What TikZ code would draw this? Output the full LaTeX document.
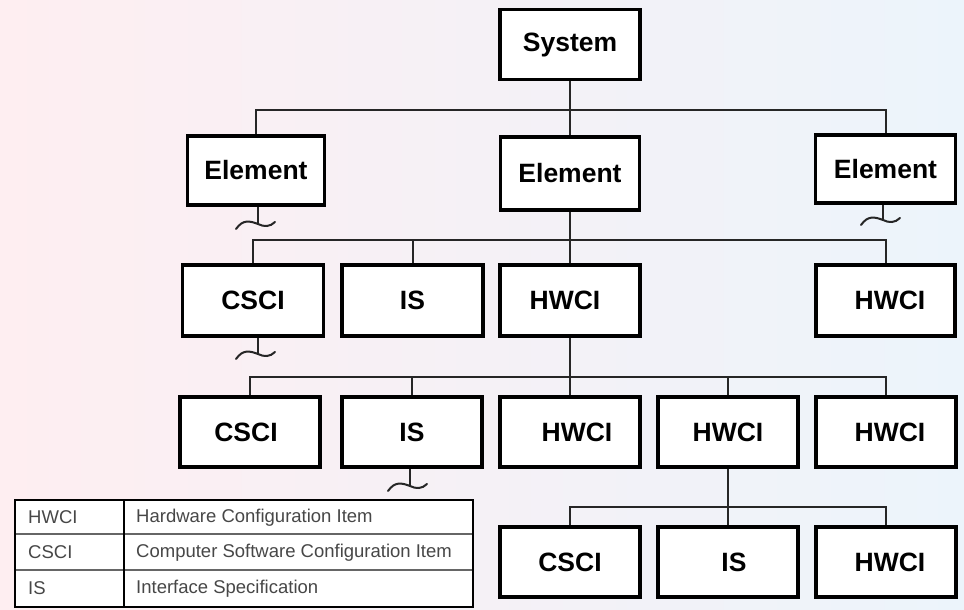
\documentclass[tikz,border=0pt]{standalone}
\usepackage{fontspec}
\setmainfont{Liberation Sans}
\begin{document}
\begin{tikzpicture}[x=1pt,y=-1pt,
  box/.style={draw=black,fill=white,line width=3.5pt,minimum width=140pt,minimum height=70pt,inner sep=0pt,
    font=\fontsize{26.5}{30}\selectfont\bfseries},
  conn/.style={draw=black!85,line width=2pt},
  squig/.style={draw=black!85,line width=2pt,line cap=round},
  tbltxt/.style={anchor=west,inner sep=0pt,text=black!72,font=\fontsize{18.5}{21}\selectfont}
]
\useasboundingbox (0,0) rectangle (964,610);
\shade[left color={rgb,255:red,254;green,238;blue,241},middle color={rgb,255:red,252;green,251;blue,252},right color={rgb,255:red,236;green,244;blue,251}]
  (0,0) rectangle (964,610);

% level 0/1
\node[box] (sys) at (570,44.5) {System};
\node[box,minimum width=137pt,minimum height=69pt] (e1) at (256,170.5) {Element};
\node[box,minimum width=139pt,minimum height=73pt] (e2) at (570,173.5) {Element};
\node[box,minimum height=68pt] (e3) at (885.5,169) {Element};

% level 2
\node[box,minimum width=141pt,minimum height=71pt] (c2) at (253,300.5) {CSCI};
\node[box,minimum width=141pt,minimum height=71pt] (i2) at (412.5,300.5) {IS};
\node[box,minimum height=71pt] (h2) at (570,300.5) {HWCI\hspace*{10pt}};
\node[box,minimum width=139pt,minimum height=71pt] (h2r) at (885.5,300.5) {\hspace*{9pt}HWCI};

% level 3
\node[box] (c3) at (250,432) {CSCI\hspace*{8pt}};
\node[box] (i3) at (412,432) {IS};
\node[box] (h3a) at (570,432) {\hspace*{14pt}HWCI};
\node[box] (h3b) at (728,432) {HWCI};
\node[box] (h3c) at (886,432) {\hspace*{8pt}HWCI};

% level 4
\node[box] (c4) at (570,562) {CSCI};
\node[box] (i4) at (728,562) {\hspace*{12pt}IS};
\node[box] (h4) at (886,562) {\hspace*{8pt}HWCI};

% buses
\coordinate (bus1) at (570,110);
\coordinate (bus2) at (570,240);
\coordinate (bus3) at (570,377);
\coordinate (bus4) at (728,507);

\draw[conn] (sys.south) -- (e2.north);
\draw[conn] (e1.north) |- (bus1) -| (e3.north);

\draw[conn] (e2.south) -- (h2.north);
\draw[conn] (c2.north) |- (bus2) -| (h2r.north);
\draw[conn] (i2.north) -- (i2.north |- bus2);

\draw[conn] (h2.south) -- (h3a.north);
\draw[conn] (c3.north) |- (bus3) -| (h3c.north);
\draw[conn] (i3.north) -- (i3.north |- bus3);
\draw[conn] (h3b.north) -- (h3b.north |- bus3);

\draw[conn] (h3b.south) -- (i4.north);
\draw[conn] (c4.north) |- (bus4) -| (h4.north);

% break squiggles
\coordinate (sq1) at (258,224);
\coordinate (sq2) at (883,220);
\coordinate (sq3) at (258,354);
\coordinate (sq4) at (410,486);
\draw[conn] (e1.south -| sq1) -- (sq1);
\draw[conn] (e3.south -| sq2) -- (sq2);
\draw[conn] (c2.south -| sq3) -- (sq3);
\draw[conn] (i3.south -| sq4) -- (sq4);
\foreach \s in {sq1,sq2,sq3,sq4}{
  \draw[squig,shift={(\s)}] (-22,5) .. controls (-15,-5) and (-8,-3) .. (0,0) .. controls (6,3) and (12,3) .. (17,-2);
}

% legend table
\fill[white] (15,500) rectangle (473,607);
\draw[black!60,line width=2pt] (15,534) -- (473,534);
\draw[black!60,line width=2pt] (15,570) -- (473,570);
\draw[black,line width=2pt] (124,500) -- (124,607);
\draw[black,line width=2.5pt] (15,500) rectangle (473,607);
\node[tbltxt] (ta) at (28,517.5) {HWCI};
\node[tbltxt] (tb) at (28,552.5) {CSCI};
\node[tbltxt] (tc) at (28,588.5) {IS};
\node[tbltxt] (da) at (136,517.5) {Hardware Configuration Item};
\node[tbltxt] (db) at (136,552.5) {Computer Software Configuration Item};
\node[tbltxt] (dc) at (136,588.5) {Interface Specification};
\end{tikzpicture}
\end{document}
